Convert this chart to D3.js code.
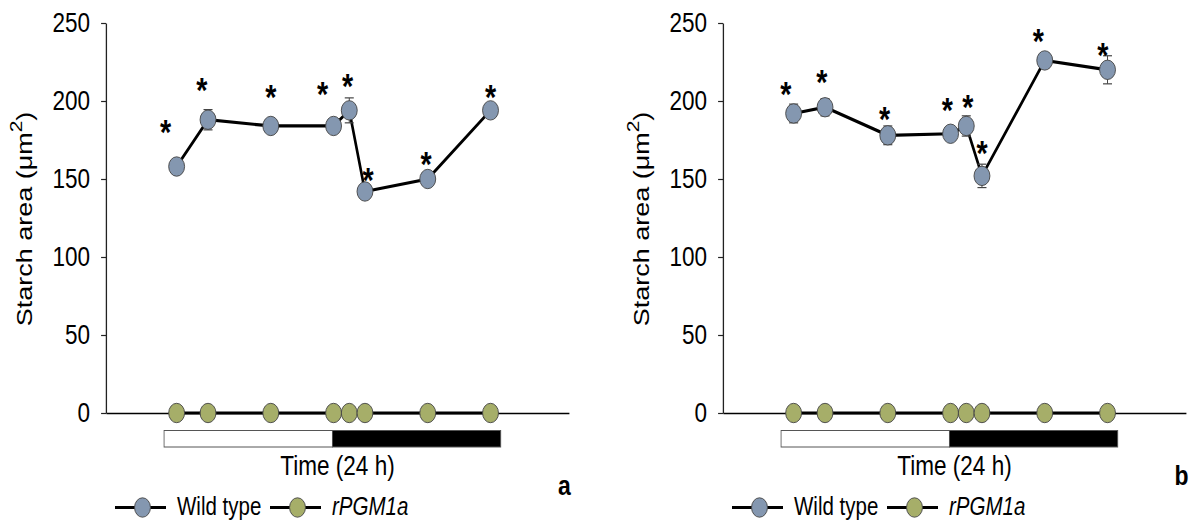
<!DOCTYPE html>
<html>
<head>
<meta charset="utf-8">
<script src="https://cdn.jsdelivr.net/npm/d3@7"></script>
<style>
  body { margin: 0; background: #fff; }
  svg text { font-family: "Liberation Sans", Arial, sans-serif; fill: #000; }
</style>
</head>
<body>
<div id="chart"></div>
<script>
// sampling times (h) and the photoperiod bar
var timesH = [0, 2, 6, 10, 11, 12, 16, 20];
var phaseBounds = [0, 12, 24];
var phaseNames = ["light", "dark"];
var yTicks = [0, 50, 100, 150, 200, 250];
var seriesNames = ["Wild type", "rPGM1a"];
var panelLabels = ["a", "b"];

// panel a
var wtA = [158, 188, 184, 184, 194, 142, 150, 194];
var wtErrA = [3, 6.5, 3, 3, 8, 4.5, 3, 3];
var mutA = [0, 0, 0, 0, 0, 0, 0, 0];
var starTA = [-0.7, 1.6, 6.0, 9.3, 10.9, 12.2, 15.9, 20.0];
var starYA = [185, 212, 207, 209, 214, 154, 164, 207];

// panel b
var wtB = [192, 196, 178, 179, 184, 152, 226, 220];
var wtErrB = [6, 5.5, 6, 4, 6.5, 7.5, 5, 9];
var mutB = [0, 0, 0, 0, 0, 0, 0, 0];
var starTB = [-0.5, 1.8, 5.8, 9.8, 11.1, 12.0, 15.6, 19.7];
var starYB = [209, 217, 193, 199, 201, 171, 243, 234];

var svgWidth = 1202;
var svgHeight = 521;
var k = 0.82; // the original figure is squeezed horizontally

var svg = d3.select("#chart")
  .append("svg")
  .attr("width", svgWidth)
  .attr("height", svgHeight);

var root = svg.append("g")
  .attr("transform", `scale(${k},1)`);

var colors = { wt: "#8497b0", mut: "#a6ae69" };

var yScale = d3.scaleLinear()
  .domain([0, 250])
  .range([413, 23]);

function drawPanel(x0, wt, wtErr, mut, starT, starY, label) {
  var g = root.append("g");

  var xScale = d3.scaleLinear()
    .domain([-4.5, 25])
    .range([x0 / k, (x0 + 463) / k]);

  var barScale = d3.scaleLinear()
    .domain([0, 24])
    .range([xScale(-0.8), xScale(20.65)]);

  // x axis (no ticks)
  g.append("g")
    .attr("transform", `translate(0, ${yScale(0)})`)
    .call(d3.axisBottom(xScale).tickValues([]).tickSizeOuter(0))
    .call(a => a.select(".domain").attr("stroke", "#000").attr("stroke-width", 1.6));

  // y axis
  g.append("g")
    .attr("transform", `translate(${xScale(-4.5)}, 0)`)
    .call(d3.axisLeft(yScale).tickValues(yTicks).tickSize(6).tickPadding(13.5).tickSizeOuter(0))
    .call(a => {
      a.select(".domain").attr("stroke", "#222").attr("stroke-width", 1.6);
      a.selectAll(".tick line").attr("stroke", "#222").attr("stroke-width", 1.2);
      a.selectAll(".tick text")
        .attr("font-size", 27.5)
        .attr("font-family", "Liberation Sans, Arial, sans-serif")
        .attr("fill", "#000");
    });

  // y axis title
  var yt = g.append("text")
    .attr("transform", `translate(${(x0 - 74.5) / k}, 219) rotate(-90)`)
    .attr("text-anchor", "middle")
    .attr("font-size", 27);
  yt.append("tspan").text("Starch area (\u03bcm");
  yt.append("tspan").attr("font-size", 21).attr("dy", -11).text("2");
  yt.append("tspan").attr("dy", 11).text(")");

  // photoperiod bar
  var phases = phaseNames.map((p, i) => ({ name: p, from: phaseBounds[i], to: phaseBounds[i + 1] }));
  g.selectAll(".phase")
    .data(phases)
    .enter()
    .append("rect")
    .attr("class", "phase")
    .attr("x", d => barScale(d.from))
    .attr("width", d => barScale(d.to) - barScale(d.from))
    .attr("y", 430.5)
    .attr("height", 16.5)
    .attr("fill", d => d.name == "light" ? "#fff" : "#000")
    .attr("stroke", "#555")
    .attr("stroke-width", 1);

  g.append("text")
    .attr("x", xScale(10.25))
    .attr("y", 475.5)
    .attr("text-anchor", "middle")
    .attr("font-size", 27.5)
    .text("Time (24 h)");

  var line = d3.line()
    .x((d, i) => xScale(timesH[i]))
    .y(d => yScale(d));

  // rPGM1a series
  g.append("path")
    .datum(mut)
    .attr("d", line)
    .attr("fill", "none")
    .attr("stroke", "#000")
    .attr("stroke-width", 3);

  // wild type series
  g.append("path")
    .datum(wt)
    .attr("d", line)
    .attr("fill", "none")
    .attr("stroke", "#000")
    .attr("stroke-width", 3.2);

  // error bars
  var eb = g.selectAll(".err")
    .data(wt)
    .enter()
    .append("g")
    .attr("class", "err")
    .attr("stroke", "#444")
    .attr("stroke-width", 1.2);
  eb.append("line")
    .attr("x1", (d, i) => xScale(timesH[i]))
    .attr("x2", (d, i) => xScale(timesH[i]))
    .attr("y1", (d, i) => yScale(d - wtErr[i]))
    .attr("y2", (d, i) => yScale(d + wtErr[i]));
  [1, -1].forEach(function(sgn) {
    eb.append("line")
      .attr("x1", (d, i) => xScale(timesH[i]) - 5.5)
      .attr("x2", (d, i) => xScale(timesH[i]) + 5.5)
      .attr("y1", (d, i) => yScale(d + sgn * wtErr[i]))
      .attr("y2", (d, i) => yScale(d + sgn * wtErr[i]));
  });

  g.selectAll(".mutDot")
    .data(mut)
    .enter()
    .append("circle")
    .attr("cx", (d, i) => xScale(timesH[i]))
    .attr("cy", d => yScale(d))
    .attr("r", 9.7)
    .attr("fill", colors.mut)
    .attr("stroke", "#444")
    .attr("stroke-width", 1);

  g.selectAll(".wtDot")
    .data(wt)
    .enter()
    .append("circle")
    .attr("cx", (d, i) => xScale(timesH[i]))
    .attr("cy", d => yScale(d))
    .attr("r", 9.7)
    .attr("fill", colors.wt)
    .attr("stroke", "#444")
    .attr("stroke-width", 1);

  // significance marks
  g.selectAll(".star")
    .data(starY)
    .enter()
    .append("text")
    .attr("x", (d, i) => xScale(starT[i]))
    .attr("y", d => yScale(d))
    .attr("dy", "0.55em")
    .attr("text-anchor", "middle")
    .attr("font-size", 35)
    .attr("font-weight", "bold")
    .text("*");

  // panel letter
  g.append("text")
    .attr("x", (x0 + 458.5) / k)
    .attr("y", label == "a" ? 495 : 485)
    .attr("text-anchor", "middle")
    .attr("font-size", 28)
    .attr("font-weight", "bold")
    .text(label);

  // legend
  var legendY = 507.5;
  var items = [
    { name: seriesNames[0], color: colors.wt, x: x0 + 9, italic: false },
    { name: seriesNames[1], color: colors.mut, x: x0 + 164, italic: true }
  ];
  items.forEach(function(it) {
    g.append("line")
      .attr("x1", it.x / k).attr("x2", (it.x + 51) / k)
      .attr("y1", legendY).attr("y2", legendY)
      .attr("stroke", "#000").attr("stroke-width", 3);
    g.append("circle")
      .attr("cx", (it.x + 27.5) / k)
      .attr("cy", legendY)
      .attr("r", 9.7)
      .attr("fill", it.color)
      .attr("stroke", "#444")
      .attr("stroke-width", 1);
    g.append("text")
      .attr("x", (it.x + 62) / k)
      .attr("y", 515.5)
      .attr("font-size", 25)
      .attr("font-style", it.italic ? "italic" : "normal")
      .text(it.name);
  });
}

drawPanel(106, wtA, wtErrA, mutA, starTA, starYA, panelLabels[0]);
drawPanel(723, wtB, wtErrB, mutB, starTB, starYB, panelLabels[1]);
</script>
</body>
</html>
